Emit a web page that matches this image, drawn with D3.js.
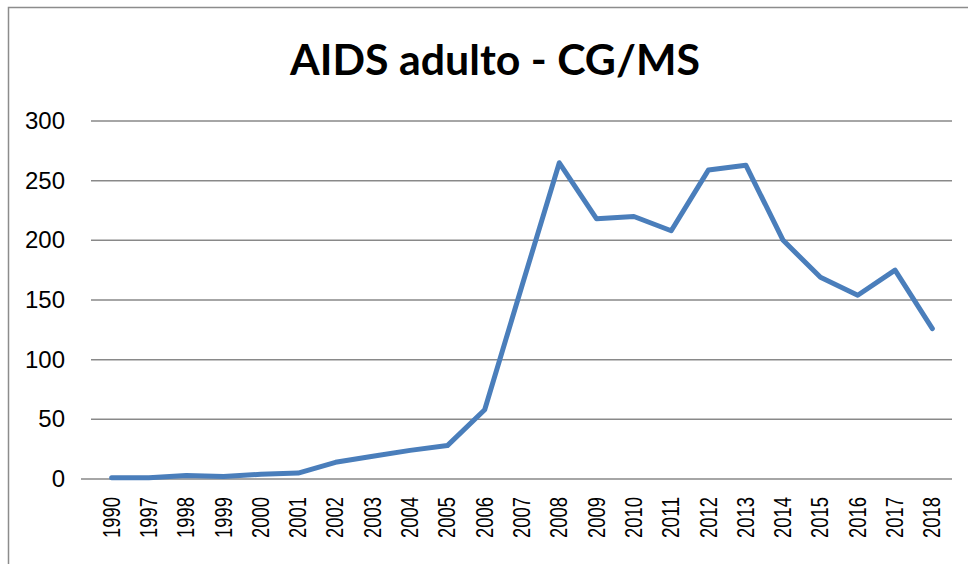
<!DOCTYPE html>
<html>
<head>
<meta charset="utf-8">
<script src="https://cdn.jsdelivr.net/npm/d3@7"></script>
<style>
  body { margin: 0; background: #fff; }
  svg { display: block; }
</style>
</head>
<body>
<svg id="chart" width="968" height="564"></svg>
<script>
const TITLE = "AIDS adulto - CG/MS";
const years = ["1990", "1997", "1998", "1999", "2000", "2001", "2002", "2003", "2004", "2005",
  "2006", "2007", "2008", "2009", "2010", "2011", "2012", "2013", "2014", "2015", "2016", "2017", "2018"];
const cases = [1, 1, 3, 2, 4, 5, 14, 19, 24, 28, 58, 162, 265, 218, 220, 208, 259, 263, 200, 169, 154, 175, 126];
const yTicks = [0, 50, 100, 150, 200, 250, 300];

const svg = d3.select("#chart");

// outer chart border (only left and top visible in the crop)
svg.append("rect")
  .attr("x", 8.5).attr("y", 7.5)
  .attr("width", 1000).attr("height", 600)
  .attr("fill", "none")
  .attr("stroke", "#8c8c8c")
  .attr("stroke-width", 1.5);

const x = d3.scaleBand().domain(years).range([93, 951]);
const y = d3.scaleLinear().domain([0, 300]).range([479, 121]);

// title
svg.append("text")
  .attr("x", 495).attr("y", 75)
  .attr("text-anchor", "middle")
  .attr("font-family", "Lato, 'Liberation Sans', sans-serif")
  .attr("font-weight", "bold")
  .attr("font-size", 42)
  .attr("textLength", 410)
  .attr("lengthAdjust", "spacingAndGlyphs")
  .text(TITLE);

// gridlines
svg.append("g")
  .selectAll("line")
  .data(yTicks.filter(d => d > 0))
  .join("line")
  .attr("x1", 91).attr("x2", 952)
  .attr("y1", d => y(d)).attr("y2", d => y(d))
  .attr("stroke", "#898989")
  .attr("stroke-width", 1.5);

// category axis line
svg.append("line")
  .attr("x1", 81).attr("x2", 952)
  .attr("y1", y(0)).attr("y2", y(0))
  .attr("stroke", "#898989")
  .attr("stroke-width", 1.5);

// y labels
svg.append("g")
  .selectAll("text")
  .data(yTicks)
  .join("text")
  .attr("x", 65)
  .attr("y", d => y(d) + 8)
  .attr("text-anchor", "end")
  .attr("font-family", "'Liberation Sans', Arial, sans-serif")
  .attr("font-size", 24)
  .attr("fill", "#000")
  .text(d => d);

// x labels, rotated
svg.append("g")
  .selectAll("text")
  .data(years)
  .join("text")
  .attr("transform", d => `translate(${x(d) + x.bandwidth() / 2 + 8},497) rotate(-90)`)
  .attr("text-anchor", "end")
  .attr("font-family", "'Liberation Sans', Arial, sans-serif")
  .attr("font-size", 23)
  .attr("textLength", 41)
  .attr("lengthAdjust", "spacingAndGlyphs")
  .attr("fill", "#000")
  .text(d => d);

// line
const line = d3.line()
  .x((d, i) => x(years[i]) + x.bandwidth() / 2)
  .y(d => y(d));

svg.append("path")
  .datum(cases)
  .attr("d", line)
  .attr("fill", "none")
  .attr("stroke", "#4a7ebb")
  .attr("stroke-width", 5)
  .attr("stroke-linejoin", "round")
  .attr("stroke-linecap", "round");
</script>
</body>
</html>
